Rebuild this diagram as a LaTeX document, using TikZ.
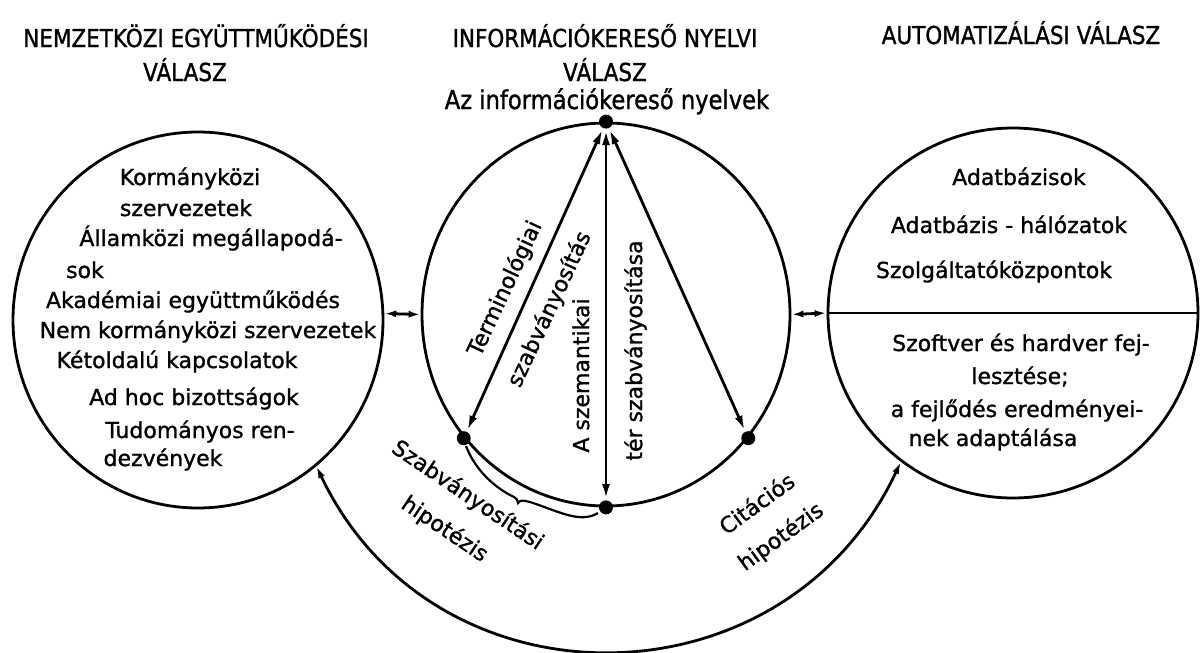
\documentclass[tikz,border=0pt]{standalone}
\usepackage{fontspec}
\setmainfont[FakeBold=1.2]{DejaVu Sans}
\newfontfamily\titlefont[FakeStretch=0.87,FakeBold=1.2]{DejaVu Sans}
\usetikzlibrary{arrows.meta,shapes.geometric}
\begin{document}
\begin{tikzpicture}[x=1pt,y=-1pt,
  line width=2.8pt,
  bigcirc/.style={draw, ellipse, inner sep=0pt},
  dot/.style={circle, fill=black, draw=none, inner sep=0pt, minimum size=14pt},
  arr/.style={{Latex[length=15pt,width=8pt]}-{Latex[length=15pt,width=8pt]}},
  sarr/.style={{Latex[length=12pt,width=7pt]}-{Latex[length=12pt,width=7pt]}},
  ttl/.style={font=\titlefont\fontsize{24.7}{28}\selectfont, anchor=base, inner sep=0pt},
  body/.style={font=\fontsize{22}{26}\selectfont, anchor=base, inner sep=0pt},
  lbl/.style={inner sep=0pt, align=center}
]
\useasboundingbox (0,0) rectangle (1200,653);

% circles
\node[bigcirc, minimum width=370pt, minimum height=376pt] (left) at (198,320) {};
\node[bigcirc, minimum width=368pt, minimum height=383pt] (mid) at (606,314.5) {};
\node[bigcirc, minimum width=370pt, minimum height=370pt] (right) at (1013,313) {};

% titles
\node[ttl] (t1) at (196,47) {NEMZETKÖZI EGYÜTTMŰKÖDÉSI};
\node[ttl] (t1b) at (185,81) {VÁLASZ};
\node[ttl] (t2) at (605,47) {INFORMÁCIÓKERESŐ NYELVI};
\node[ttl] (t2b) at (605,81) {VÁLASZ};
\node[ttl, font=\titlefont\fontsize{26}{30}\selectfont] (t2c) at (607,109) {Az információkereső nyelvek};
\node[ttl] (t3) at (1021,44) {AUTOMATIZÁLÁSI VÁLASZ};

% left circle text
\node[body] (l1) at (190,185) {Kormányközi};
\node[body] (l2) at (186,216) {szervezetek};
\node[body] (l3) at (211,246) {Államközi megállapodá-};
\node[body] (l4) at (85,278) {sok};
\node[body] (l5) at (193,308) {Akadémiai együttműködés};
\node[body] (l6) at (208,338) {Nem kormányközi szervezetek};
\node[body] (l7) at (177,368) {Kétoldalú kapcsolatok};
\node[body] (l8) at (194,405) {Ad hoc bizottságok};
\node[body] (l9) at (200,438) {Tudományos ren-};
\node[body] (l10) at (163,466) {dezvények};

% right circle text
\node[body] (r1) at (1019,185) {Adatbázisok};
\node[body] (r2) at (1009,233) {Adatbázis - hálózatok};
\node[body] (r3) at (994,278) {Szolgáltatóközpontok};
\node[body] (r4) at (1021,351) {Szoftver és hardver fej-};
\node[body] (r5) at (1020,384) {lesztése;};
\node[body] (r6) at (1017,417) {a fejlődés eredményei-};
\node[body] (r7) at (993,446) {nek adaptálása};
\draw (right.180) -- (right.0);

% links between circles
\draw[sarr] (left.2) -- (mid.180);
\draw[sarr] (mid.0) -- (right.180);

% bottom arc
\coordinate (ea) at (left.-51.5);
\coordinate (eb) at (right.233);
\draw[sarr] (ea) .. controls (434,714) and (784,711) .. (eb);

% dots in the middle circle
\node[dot] (T) at (mid.90) {};
\node[dot] (B) at (mid.270) {};
\node[dot] (L) at (mid.221.3) {};
\node[dot] (R) at (mid.319) {};
\draw[arr] (T) -- (L);
\draw[arr] (T) -- (B);
\draw[arr] (T) -- (R);

% brace
\draw[line width=2.2pt] (466,446) .. controls (476,472) and (497,489) .. (514,497)
  .. controls (517,499) .. (518,503)
  .. controls (521,500) .. (530,502)
  .. controls (558,511) and (580,524) .. (598,513);

% labels in/around middle circle
\node[lbl, rotate=65, font=\fontsize{22}{49}\selectfont] (a1) at (527.5,299)
  {Terminológiai\\szabványosítás\hspace{16pt}};
\node[lbl, rotate=90, font=\fontsize{22}{53}\selectfont] (a3) at (609.5,375.5)
  {A szemantikai\\\hspace{50pt}tér szabványosítása};
\node[lbl, rotate=-34, font=\fontsize{22}{41}\selectfont] (a5) at (456,512.5)
  {Szabványosítási\\hipotézis\hspace{18pt}};
\node[lbl, rotate=36, font=\fontsize{22}{40}\selectfont] (a7) at (769.5,521)
  {Citációs\\hipotézis\hspace{20pt}};
\end{tikzpicture}
\end{document}
